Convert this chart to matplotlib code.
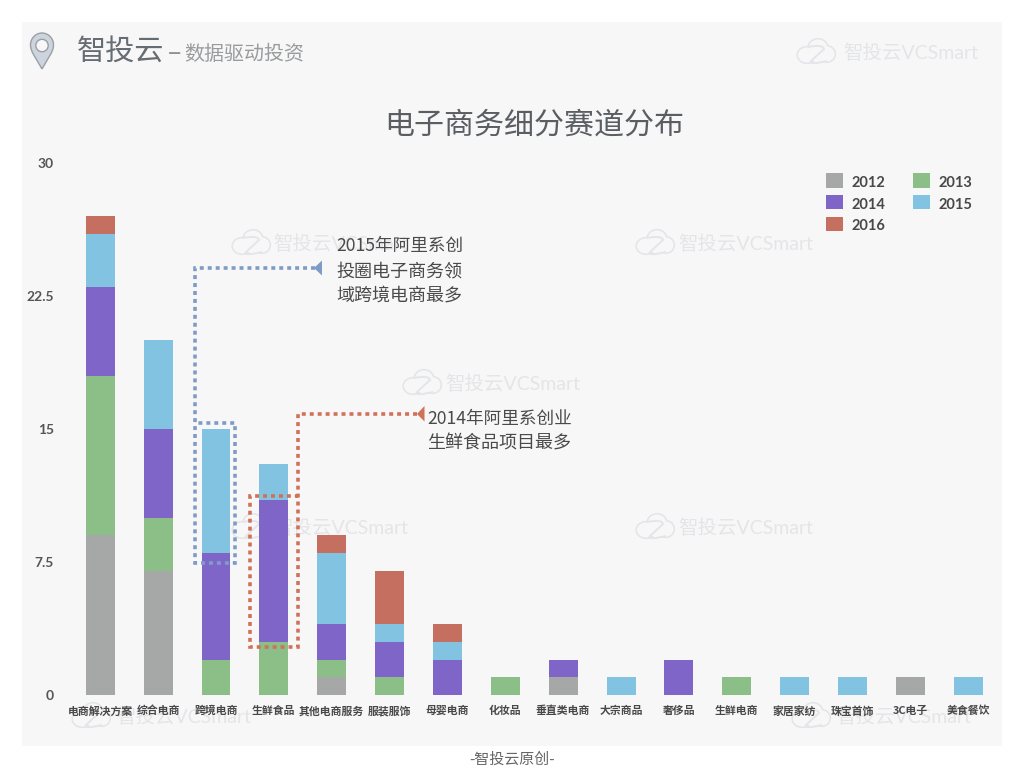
import numpy as np
import matplotlib
matplotlib.use("Agg")
import matplotlib.pyplot as plt
from matplotlib.patches import Rectangle, Polygon, PathPatch, Ellipse, Circle
from matplotlib.path import Path
from matplotlib.lines import Line2D
from matplotlib.transforms import Affine2D

categories = ["电商解决方案", "综合电商", "跨境电商", "生鲜食品", "其他电商服务", "服装服饰", "母婴电商", "化妆品",
              "垂直类电商", "大宗商品", "奢侈品", "生鲜电商", "家居家纺", "珠宝首饰", "3C电子", "美食餐饮"]
y2012 = [9, 7, 0, 0, 1, 0, 0, 0, 1, 0, 0, 0, 0, 0, 1, 0]
y2013 = [9, 3, 2, 3, 1, 1, 0, 1, 0, 0, 0, 1, 0, 0, 0, 0]
y2014 = [5, 5, 6, 8, 2, 2, 2, 0, 1, 0, 2, 0, 0, 0, 0, 0]
y2015 = [3, 5, 7, 2, 4, 1, 1, 0, 0, 1, 0, 0, 1, 1, 0, 1]
y2016 = [1, 0, 0, 0, 1, 3, 1, 0, 0, 0, 0, 0, 0, 0, 0, 0]
series_names = ["2012", "2013", "2014", "2015", "2016"]
series_colors = ["#a5a8a7", "#8bbf87", "#8065c8", "#82c3e1", "#c46f5f"]
y_ticks = [0, 7.5, 15, 22.5, 30]
y_tick_labels = ["0", "7.5", "15", "22.5", "30"]

CJK = ["Noto Sans CJK SC", "DejaVu Sans"]
MIX = ["Lato", "Noto Sans CJK SC", "DejaVu Sans"]
plt.rcParams["font.family"] = MIX

W, H = 1024, 768
fig = plt.figure(figsize=(W / 100, H / 100), dpi=100, facecolor="white")
PX = Affine2D().scale(1, -1).translate(0, H)   # pixel coordinates, y down


def add(artist):
    artist.set_transform(PX)
    fig.add_artist(artist)
    return artist


def label(x, y, s, **kw):
    kw.setdefault("ha", "left")
    kw.setdefault("va", "center")
    kw.setdefault("family", MIX)
    return fig.text(x, y, s, transform=PX, **kw)


# panel
add(Rectangle((22, 22), 980, 724, fc="#f7f7f7", ec="none", zorder=-10))


# watermarks
def watermark(x, cy, text_x):
    c = "#e4e5e8"
    lobes = [(10, 3, 9.5, 8), (21, -3, 10, 10), (30, 2, 8, 8)]
    for dx, dy, rx, ry in lobes:
        add(Ellipse((x + dx, cy + dy), 2 * rx, 2 * ry, fc="none", ec=c, lw=1.6, zorder=-9))
    for dx, dy, rx, ry in lobes:
        add(Ellipse((x + dx, cy + dy), 2 * rx - 1, 2 * ry - 1, fc="#f7f7f7", ec="none", zorder=-8))
    add(Rectangle((x + 8, cy - 1), 22, 10, fc="#f7f7f7", ec="none", zorder=-8))
    p = Path([(x + 11, cy - 5), (x + 26, cy - 8), (x + 27, cy - 3), (x + 14, cy + 9), (x + 12, cy + 12), (x + 20, cy + 11), (x + 30, cy + 9)],
             [Path.MOVETO, Path.CURVE3, Path.CURVE3, Path.LINETO, Path.CURVE3, Path.CURVE3, Path.LINETO])
    add(PathPatch(p, fc="none", ec=c, lw=1.4, zorder=-7))
    label(text_x, cy + 1, "智投云VCSmart", color=c, fontsize=14, zorder=-7)


for wx, wy, tx in [(797, 52, 843), (232, 243, 273), (636, 243, 678), (403, 383, 445),
                   (232, 527, 273), (636, 527, 678), (72, 716, 116), (792, 716, 836)]:
    watermark(wx, wy, tx)

# header
pin = Path([(42, 69), (36, 58), (30.5, 52), (30.5, 45), (30.5, 38), (36, 33), (42, 33), (48, 33), (53.5, 38), (53.5, 45), (53.5, 52), (48, 58), (42, 69)],
           [Path.MOVETO] + [Path.CURVE4] * 12)
add(PathPatch(pin, fc="#ced4dd", ec="#9a9fa6", lw=1.0, zorder=3))
add(Circle((42, 45.5), 6.2, fc="#f7f7f7", ec="#9a9fa6", lw=1.0, zorder=4))
label(77, 52, "智投云", fontsize=21, color="#666c73", family=CJK)
label(167.5, 52.5, "–", fontsize=18, color="#8f9396", family=CJK)
label(184, 55, "数据驱动投资", fontsize=14.4, color="#999b9d", family=CJK)
label(534.5, 125, "电子商务细分赛道分布", fontsize=21.6, color="#5a5e63", ha="center", family=CJK)
label(512.5, 760, "-智投云原创-", fontsize=10.8, color="#666666", ha="center", family=CJK)

# chart
ax = fig.add_axes([71.3 / W, 1 - 695 / H, (997.2 - 71.3) / W, (695 - 163) / H], zorder=1)
ax.patch.set_visible(False)
x = np.arange(len(categories))
bottom = np.zeros(len(categories))
handles = {}
for name, vals, col in zip(series_names, [y2012, y2013, y2014, y2015, y2016], series_colors):
    vals = np.array(vals, dtype=float)
    handles[name] = ax.bar(x, vals, width=0.5, bottom=bottom, color=col, linewidth=0, label=name)
    bottom += vals

ax.set_xlim(-0.5, len(categories) - 0.5)
ax.set_ylim(0, 30)
ax.set_yticks(y_ticks, y_tick_labels, fontsize=10, color="#555555", family=MIX, fontweight="bold")
ax.set_xticks(x, categories, fontsize=7.8, color="#484848", family=CJK, fontweight="bold")
ax.tick_params(axis="y", length=0, pad=12.6)
ax.tick_params(axis="x", length=0, pad=7.7)
for s in ax.spines.values():
    s.set_visible(False)

order = ["2012", "2014", "2016", "2013", "2015"]
fs = 10.5
fpx = fs * 100 / 72
leg = ax.legend([handles[n] for n in order], order, ncols=2, loc="upper left",
                bbox_to_anchor=(826, 173), bbox_transform=PX, frameon=False,
                borderpad=0, borderaxespad=0, handlelength=17 / fpx, handleheight=17 / fpx,
                handletextpad=9 / fpx, labelspacing=6.6 / fpx, columnspacing=27 / fpx,
                prop={"family": MIX, "size": fs, "weight": "bold"}, labelcolor="#484848")
for t in leg.get_texts():
    t.set_y(-1.5)

# call-outs
BLUE, ORANGE = "#7f9cc6", "#d0725a"


def dotted(pts, color):
    xs, ys = zip(*pts)
    add(Line2D(xs, ys, color=color, lw=2.6, linestyle=(0, (1.1, 1.1)), dash_capstyle="butt",
               dash_joinstyle="miter", zorder=5))


dotted([(315, 268), (195, 268), (195, 563), (235, 563), (235, 423), (195, 423)], BLUE)
add(Polygon([(314, 268), (322, 260.5), (322, 275.5)], fc=BLUE, ec="none", zorder=6))
dotted([(417, 414), (297.5, 414), (297.5, 647), (250, 647), (250, 495.5), (297.5, 495.5)], ORANGE)
add(Polygon([(417, 414), (424.5, 406), (424.5, 421.5)], fc=ORANGE, ec="none", zorder=6))

for i, (line, size) in enumerate([("2015年阿里系创", 12.7), ("投圈电子商务领", 13), ("域跨境电商最多", 13)]):
    label(336.5, 246 + 25 * i, line, fontsize=size, color="#4a4a4a", zorder=6, family=CJK)
for i, (line, size) in enumerate([("2014年阿里系创业", 12.7), ("生鲜食品项目最多", 13)]):
    label(427.5, 418.5 + 25 * i, line, fontsize=size, color="#4a4a4a", zorder=6, family=CJK)

fig.savefig("out.png", dpi=100, facecolor="white")
